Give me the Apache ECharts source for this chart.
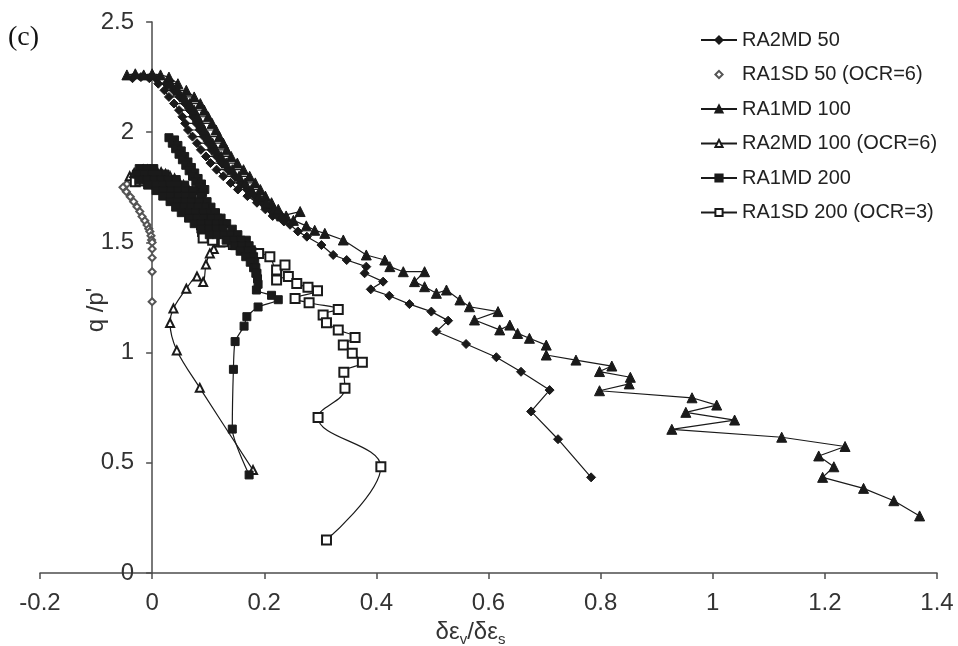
<!DOCTYPE html>
<html>
<head>
<meta charset="utf-8">
<script src="https://cdn.jsdelivr.net/npm/echarts@6/dist/echarts.min.js"></script>
<style>
  html, body { margin: 0; padding: 0; background: #ffffff; }
  #chart { width: 958px; height: 646px; }
</style>
</head>
<body>
<div id="chart"></div>
<script>
// Stress-dilatancy data: each point is [dεv/dεs, q/p'], listed in drawing order.
const ra2md50 = [
  [-0.035,2.245],[-0.02,2.25],[-0.005,2.245],[0.008,2.24],
  [0.011,2.22],[0.025,2.22],[0.038,2.19],[0.022,2.19],[0.03,2.16],[0.049,2.16],[0.059,2.13],[0.039,2.13],
  [0.048,2.1],[0.067,2.1],[0.073,2.07],[0.054,2.07],[0.059,2.04],[0.079,2.04],[0.085,2.01],[0.064,2.01],
  [0.072,1.98],[0.092,1.98],[0.1,1.95],[0.08,1.95],[0.087,1.92],[0.106,1.92],[0.115,1.89],[0.096,1.89],
  [0.104,1.86],[0.124,1.86],[0.135,1.83],[0.115,1.83],[0.127,1.8],[0.147,1.8],[0.158,1.77],[0.14,1.77],
  [0.153,1.74],[0.169,1.74],[0.182,1.71],[0.17,1.71],[0.187,1.68],[0.196,1.68],[0.21,1.65],[0.202,1.65],
  [0.215,1.62],[0.223,1.62],[0.235,1.595],[0.246,1.58],[0.26,1.55],[0.276,1.526],[0.302,1.488],
  [0.323,1.443],[0.347,1.42],[0.382,1.39],[0.379,1.36],[0.412,1.322],[0.39,1.287],[0.423,1.258],[0.459,1.22],
  [0.498,1.186],[0.528,1.145],[0.507,1.096],[0.56,1.039],[0.614,0.979],[0.658,0.913],[0.709,0.83],
  [0.676,0.733],[0.724,0.607],[0.783,0.434]
];
const ra1sd50 = [
  [-0.045,1.765],[-0.052,1.75],[-0.046,1.73],[-0.039,1.707],[-0.033,1.685],[-0.027,1.662],[-0.022,1.64],
  [-0.018,1.617],[-0.013,1.598],[-0.009,1.579],[-0.006,1.562],[-0.004,1.549],[-0.002,1.53],[-0.001,1.511],
  [0,1.5],[0,1.47],[0,1.43],[0,1.367],[0,1.231]
];
const ra1md100 = [
  [-0.045,2.26],[-0.03,2.265],[-0.015,2.26],[0.0,2.265],[0.015,2.26],[0.03,2.25],
  [0.046,2.22],[0.033,2.22],[0.046,2.19],[0.061,2.19],[0.075,2.16],[0.057,2.16],[0.067,2.13],[0.086,2.13],
  [0.093,2.1],[0.075,2.1],[0.081,2.07],[0.1,2.07],[0.107,2.04],[0.087,2.04],[0.093,2.01],[0.114,2.01],
  [0.12,1.98],[0.1,1.98],[0.108,1.95],[0.127,1.95],[0.133,1.92],[0.114,1.92],[0.123,1.89],[0.141,1.89],
  [0.152,1.86],[0.132,1.86],[0.143,1.83],[0.163,1.83],[0.174,1.8],[0.155,1.8],[0.166,1.77],[0.184,1.77],
  [0.193,1.74],[0.177,1.74],[0.19,1.71],[0.202,1.71],[0.213,1.68],[0.204,1.68],[0.218,1.65],[0.225,1.65],
  [0.239,1.62],[0.231,1.62],[0.264,1.64],[0.252,1.6],[0.275,1.575],[0.29,1.555],[0.308,1.541],
  [0.341,1.511],[0.382,1.443],[0.415,1.42],[0.424,1.39],
  [0.448,1.367],[0.486,1.367],[0.468,1.322],[0.486,1.299],[0.507,1.269],[0.525,1.284],[0.549,1.239],
  [0.566,1.208],[0.617,1.186],[0.575,1.148],[0.62,1.103],[0.638,1.125],[0.652,1.087],[0.673,1.065],
  [0.703,1.034],[0.703,0.989],[0.756,0.966],[0.82,0.939],[0.798,0.914],[0.853,0.888],[0.851,0.858],
  [0.798,0.827],[0.963,0.795],[1.007,0.762],[0.952,0.729],[1.039,0.694],[0.927,0.652],[1.123,0.616],
  [1.236,0.574],[1.189,0.531],[1.216,0.482],[1.196,0.434],[1.269,0.384],[1.323,0.328],[1.369,0.259]
];
const ra2md100ocr6 = [
  [-0.04,1.8],[-0.032,1.815],[-0.024,1.825],[-0.016,1.83],[-0.008,1.83],[0.0,1.828],[0.008,1.825],
  [0.016,1.818],[0.024,1.81],[0.032,1.8],[0.04,1.79],[0.048,1.775],[0.056,1.76],[0.064,1.745],[0.072,1.73],
  [0.08,1.71],[0.088,1.69],[0.096,1.67],[0.104,1.65],[0.11,1.63],[0.116,1.61],[0.12,1.585],[0.124,1.56],
  [0.125,1.535],[0.121,1.5],[0.11,1.47],[0.103,1.45],[0.096,1.4],[0.091,1.32],[0.08,1.345],[0.061,1.29],
  [0.038,1.2],[0.032,1.134],[0.044,1.01],[0.085,0.84],[0.18,0.467]
];
const ra1md200 = [
  [0.03,1.975],[0.04,1.965],[0.036,1.95],[0.046,1.94],[0.042,1.925],[0.052,1.915],[0.048,1.9],[0.058,1.89],
  [0.054,1.875],[0.064,1.865],[0.06,1.85],[0.07,1.84],[0.066,1.825],[0.076,1.815],[0.072,1.8],[0.082,1.79],
  [0.078,1.775],[0.088,1.765],[0.084,1.75],[0.094,1.74],[0.09,1.725],
  [-0.023,1.835],[-0.01,1.835],[0.003,1.835],
  [0.023,1.81],[0.011,1.81],[-0.002,1.81],[-0.015,1.81],[-0.028,1.81],
  [-0.023,1.785],[-0.01,1.785],[0.003,1.785],[0.016,1.785],[0.029,1.785],[0.043,1.785],
  [0.058,1.76],[0.044,1.76],[0.031,1.76],[0.018,1.76],[0.005,1.76],[-0.008,1.76],
  [0.007,1.735],[0.02,1.735],[0.033,1.735],[0.046,1.735],[0.059,1.735],[0.073,1.735],
  [0.088,1.71],[0.071,1.71],[0.058,1.71],[0.045,1.71],[0.032,1.71],[0.019,1.71],
  [0.032,1.685],[0.045,1.685],[0.058,1.685],[0.071,1.685],[0.084,1.685],[0.098,1.685],
  [0.105,1.66],[0.094,1.66],[0.081,1.66],[0.068,1.66],[0.055,1.66],[0.042,1.66],
  [0.052,1.635],[0.065,1.635],[0.078,1.635],[0.091,1.635],[0.104,1.635],[0.113,1.635],
  [0.123,1.61],[0.117,1.61],[0.104,1.61],[0.091,1.61],[0.078,1.61],[0.065,1.61],
  [0.075,1.585],[0.088,1.585],[0.101,1.585],[0.114,1.585],[0.127,1.585],[0.133,1.585],
  [0.143,1.56],[0.126,1.56],[0.113,1.56],[0.1,1.56],[0.087,1.56],
  [0.102,1.535],[0.115,1.535],[0.128,1.535],[0.141,1.535],[0.153,1.535],
  [0.168,1.51],[0.158,1.51],[0.145,1.51],[0.132,1.51],
  [0.147,1.485],[0.16,1.485],[0.173,1.485],
  [0.178,1.46],[0.17,1.46],[0.157,1.46],
  [0.167,1.435],[0.181,1.435],[0.183,1.41],[0.175,1.41],[0.181,1.385],[0.185,1.385],
  [0.187,1.36],[0.185,1.36],[0.188,1.335],[0.189,1.31],
  [0.186,1.284],[0.213,1.26],[0.225,1.24],[0.189,1.207],[0.169,1.163],
  [0.164,1.12],[0.148,1.05],[0.145,0.924],[0.143,0.653],[0.173,0.445]
];
const ra1sd200ocr3 = [
  [-0.03,1.775],[-0.022,1.78],[-0.014,1.78],[-0.006,1.778],[0.002,1.772],[0.01,1.764],[0.018,1.755],
  [0.026,1.745],[0.034,1.733],[0.042,1.72],[0.05,1.705],[0.058,1.69],[0.066,1.672],[0.074,1.652],[0.08,1.63],
  [0.085,1.605],[0.088,1.58],[0.09,1.55],[0.091,1.52],[0.108,1.51],[0.127,1.503],[0.145,1.49],[0.16,1.475],
  [0.175,1.462],[0.19,1.45],[0.21,1.435],[0.222,1.375],[0.237,1.397],[0.222,1.329],[0.243,1.345],[0.258,1.314],
  [0.278,1.296],[0.295,1.281],[0.255,1.246],[0.28,1.226],[0.332,1.196],[0.305,1.171],[0.311,1.136],
  [0.332,1.103],[0.362,1.069],[0.341,1.034],[0.357,0.997],[0.375,0.956],[0.342,0.911],[0.344,0.838],
  [0.296,0.706],[0.408,0.482],[0.311,0.15]
];

const seriesNames = ['RA2MD 50', 'RA1SD 50 (OCR=6)', 'RA1MD 100', 'RA2MD 100 (OCR=6)', 'RA1MD 200', 'RA1SD 200 (OCR=3)'];
const xTicks = { min: -0.2, max: 1.4, step: 0.2 };
const yTicks = { min: 0, max: 2.5, step: 0.5 };

const INK = '#1a1a1a';
const AXIS = '#4d4d4d';
const FONT = '"Liberation Sans", Arial, sans-serif';

const GRID = { left: 40, right: 21, top: 22, bottom: 73 };
const plotWidth = 958 - GRID.left - GRID.right;
// The q/p' axis stands at dεv/dεs = 0, inside the plot.
const yAxisShift = -plotWidth * (0 - xTicks.min) / (xTicks.max - xTicks.min);

function lineSeries(name, data, symbol, size, smooth, z) {
  return {
    name: name,
    type: 'line',
    data: data,
    symbol: symbol,
    symbolSize: size,
    smooth: smooth,
    showSymbol: true,
    lineStyle: { color: INK, width: 1.2 },
    itemStyle: { color: INK, borderColor: INK, borderWidth: 1 },
    emphasis: { disabled: true },
    z: z
  };
}

const chart = echarts.init(document.getElementById('chart'), null, { renderer: 'canvas' });

chart.setOption({
  animation: false,
  backgroundColor: '#ffffff',
  grid: Object.assign({ containLabel: false, outerBoundsMode: 'none' }, GRID),
  legend: {
    orient: 'vertical',
    left: 695,
    top: 25,
    itemWidth: 36,
    itemHeight: 9,
    itemGap: 14.5,
    data: seriesNames,
    textStyle: { fontFamily: FONT, fontSize: 20, color: '#222' },
    selectedMode: false
  },
  xAxis: {
    type: 'value',
    min: xTicks.min,
    max: xTicks.max,
    interval: xTicks.step,
    axisLine: { show: true, onZero: false, lineStyle: { color: AXIS, width: 1.5 } },
    axisTick: { show: true, length: 6, lineStyle: { color: AXIS, width: 1.5 } },
    axisLabel: { fontFamily: FONT, fontSize: 24, color: '#333', margin: 18 },
    splitLine: { show: false },
    name: '{a|δε}{s|v}{a|/δε}{s|s}',
    nameLocation: 'middle',
    nameGap: 42,
    nameTextStyle: {
      padding: [0, 36, 0, 0],
      rich: {
        a: { fontFamily: FONT, fontSize: 24, color: '#333', lineHeight: 30, verticalAlign: 'middle' },
        s: { fontFamily: FONT, fontSize: 15, color: '#333', lineHeight: 30, verticalAlign: 'bottom' }
      }
    }
  },
  yAxis: {
    type: 'value',
    min: yTicks.min,
    max: yTicks.max,
    interval: yTicks.step,
    offset: yAxisShift,
    axisLine: { show: true, onZero: false, lineStyle: { color: AXIS, width: 1.5 } },
    axisTick: { show: true, length: 6, lineStyle: { color: AXIS, width: 1.5 } },
    axisLabel: { fontFamily: FONT, fontSize: 24, color: '#333', margin: 18 },
    splitLine: { show: false }
  },
  graphic: [
    {
      type: 'text', left: 8, top: 24,
      style: { text: '(c)', font: '28px "Liberation Serif", "Times New Roman", serif', fill: '#111' }
    },
    {
      type: 'text', x: 96, y: 310, rotation: Math.PI / 2,
      style: { text: "q /p'", font: '24px ' + FONT, fill: '#333', align: 'center', verticalAlign: 'middle' }
    }
  ],
  series: [
    lineSeries(seriesNames[0], ra2md50, 'diamond', 9, false, 3),
    {
      name: seriesNames[1],
      type: 'line',
      data: ra1sd50,
      symbol: 'emptyDiamond',
      symbolSize: 7,
      showSymbol: true,
      lineStyle: { width: 0, opacity: 0 },
      itemStyle: { color: '#555', borderColor: '#555', borderWidth: 1 },
      emphasis: { disabled: true },
      z: 3
    },
    lineSeries(seriesNames[2], ra1md100, 'triangle', 10, false, 3),
    lineSeries(seriesNames[3], ra2md100ocr6, 'emptyTriangle', 8, 0.3, 3),
    lineSeries(seriesNames[4], ra1md200, 'rect', 8, 0.2, 4),
    lineSeries(seriesNames[5], ra1sd200ocr3, 'emptyRect', 9, 0.4, 3)
  ]
});
</script>
</body>
</html>
